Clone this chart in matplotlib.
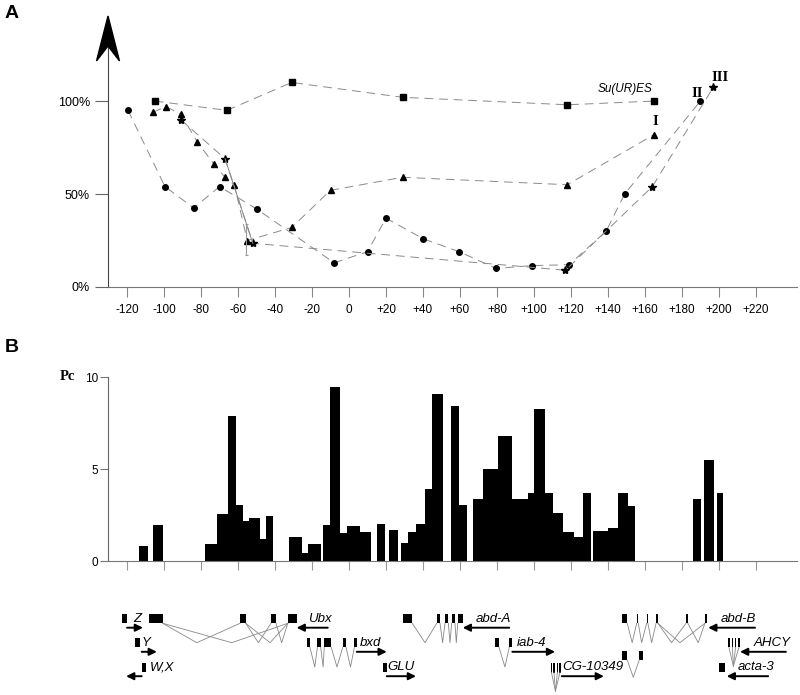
import matplotlib
matplotlib.use('Agg')
import matplotlib.pyplot as plt
from matplotlib.patches import Polygon, Rectangle

plt.rcParams['font.family'] = ['Liberation Sans', 'DejaVu Sans']

# ---- panel A : relative expression (%) vs position (kb) ----
sq_x = [-105, -66, -31, 29, 118, 165]
sq_y = [100, 95, 110, 102, 98, 100]

tri_x = [-106, -99, -91, -82, -73, -67, -62, -55, -31, -10, 29, 118, 165]
tri_y = [94, 97, 93, 78, 66, 59, 55, 25, 32, 52, 59, 55, 82]

star_x = [-91, -67, -52, 117, 164, 197]
star_y = [90, 69, 23.5, 9, 54, 107.5]

circ_x = [-119.5, -99.5, -84, -70, -50, -8, 10, 20, 40, 59.5, 79.5, 99, 119, 139, 149, 190]
circ_y = [95, 54, 42.5, 54, 42, 13, 19, 37, 26, 19, 10, 11.5, 12, 30, 50, 100]

err_x, err_lo, err_hi = -55.5, 17, 34

x_ticks = list(range(-120, 240, 20))
x_labels = [str(t) if t <= 0 else '+' + str(t) for t in x_ticks]

# ---- panel B : Pc binding ----
bar_left = [-113.5, -105.9, -77.8, -71.5, -65.6, -61.1, -57.1, -54.1, -48.1, -44.9,
            -32.4, -25.2, -22.0, -14.2, -10.3, -4.9, -1.2, 5.9, 15.0, 21.8,
            27.9, 31.7, 36.2, 40.9, 45.0, 55.0, 59.3, 67.2, 72.3, 80.7,
            88.3, 96.6, 100.0, 105.9, 110.4, 115.8, 121.6, 126.6, 132.1, 139.8,
            145.6, 151.0, 185.8, 191.9, 199.1]
bar_w = [4.9, 5.4, 6.3, 5.9, 4.5, 3.9, 3.1, 5.9, 3.2, 4.0,
         7.2, 3.2, 6.7, 3.9, 5.4, 3.6, 7.2, 5.9, 4.5, 4.9,
         3.8, 4.5, 4.7, 4.1, 5.9, 4.3, 4.7, 5.1, 8.4, 7.6,
         8.3, 3.4, 5.9, 4.5, 5.4, 5.8, 5.0, 4.2, 7.8, 5.7,
         5.4, 3.6, 4.3, 5.6, 3.2]
bar_h = [0.82, 1.95, 0.9, 2.56, 7.9, 3.05, 2.2, 2.35, 1.2, 2.45,
         1.3, 0.45, 0.9, 1.95, 9.45, 1.5, 1.9, 1.55, 2.0, 1.7,
         1.0, 1.55, 2.0, 3.9, 9.1, 8.45, 3.05, 3.35, 5.0, 6.8,
         3.35, 3.68, 8.25, 3.68, 2.6, 1.6, 1.33, 3.68, 1.65, 1.78,
         3.68, 3.0, 3.35, 5.5, 3.68]

# ---- gene map ----
exon_start = [-122.8, -107.9, -58.9, -42.2, -33.1, 29.4, 47.4, 51.9, 55.5, 58.8,
              147.4, 155.5, 160.9, 166.0, 182.2, 192.4,
              -115.7, -22.9, -17.1, -13.4, -11.4, -3.4, 2.9, 78.9, 86.6,
              -112.1, 18.2, 200.2,
              147.4, 156.9]
exon_end = [-120.1, -100.7, -55.8, -39.5, -28.3, 34.2, 49.2, 53.7, 57.3, 61.5,
            150.4, 156.4, 161.6, 167.0, 183.2, 193.7,
            -113.0, -21.1, -15.3, -11.6, -9.6, -1.6, 4.4, 81.1, 88.1,
            -109.7, 20.4, 203.2,
            150.4, 158.8]
exon_row = [1] * 16 + [2] * 9 + [3] * 3 + [4] * 2

splices = [(-100.7, -82.3, -58.9, 1), (-100.7, -63.4, -33.1, 1), (-55.8, -49.0, -42.2, 1),
           (-55.8, -42.7, -33.1, 1), (-39.5, -36.4, -33.1, 1),
           (34.2, 41.1, 47.4, 1), (49.2, 50.6, 51.9, 1), (53.7, 54.6, 55.5, 1), (57.3, 58.0, 58.8, 1),
           (150.4, 153.1, 155.5, 1), (156.4, 158.2, 160.9, 1), (161.6, 163.6, 166.0, 1),
           (167.0, 174.4, 182.2, 1), (167.0, 178.9, 192.4, 1), (183.2, 188.8, 192.4, 1),
           (-21.1, -18.5, -17.1, 2), (-15.3, -14.0, -13.4, 2), (-9.6, -6.5, -3.4, 2), (-1.6, 0.8, 2.9, 2),
           (81.1, 84.3, 86.6, 2),
           (150.4, 153.7, 156.9, 4)]

cg_exons = [109.0, 110.4, 112.3, 113.7]
ahcy_exons = [205.0, 206.9, 208.6, 210.4]

gene_names = ['Z', 'Ubx', 'abd-A', 'abd-B', 'Y', 'bxd', 'iab-4', 'AHCY', 'W,X', 'GLU', 'CG-10349', 'acta-3']
gene_label_x = [-116.8, -22.2, 68.5, 200.9, -112.3, 5.6, 90.6, 218.5, -107.6, 20.7, 115.5, 210.4]
gene_row = [1, 1, 1, 1, 2, 2, 2, 2, 3, 3, 3, 3]
arrow_tail = [-120.0, -11.5, 86.6, 219.5, -112.1, 4.2, 88.3, 236.2, -112.1, 20.4, 115.0, 226.6]
arrow_head = [-111.4, -28.3, 61.5, 194.2, -103.9, 20.4, 111.4, 211.4, -120.5, 36.2, 137.8, 204.2]

row_y = {1: 618.7, 2: 642.8, 3: 667.2, 4: 655.3}
apex_y = {1: 642.7, 2: 667.0, 4: 677.3}

W, H = 800, 695
XMIN, XMAX = -130.3, 242.2


def rect(left, top, right, bottom):
    return [left / W, 1 - bottom / H, (right - left) / W, (bottom - top) / H]


fig = plt.figure(figsize=(8, 6.95), dpi=100)

# ---------------- A ----------------
axA = fig.add_axes(rect(108, 17, 797, 287))
axA.set_xlim(XMIN, XMAX)
axA.set_ylim(0, 145.2)
for s in ['top', 'right']:
    axA.spines[s].set_visible(False)
axA.spines['left'].set_color('#444')
axA.spines['bottom'].set_color('#777')
axA.set_xticks(x_ticks)
axA.set_xticklabels(x_labels)
axA.set_yticks([0, 50, 100])
axA.set_yticklabels(['0%', '50%', '100%'])
axA.tick_params(axis='x', direction='out', length=7, width=0.8, color='#888', labelsize=8.5, pad=5)
axA.tick_params(axis='y', direction='out', length=9.4, width=0.8, color='#666', labelsize=9, pad=3.5)

kw = dict(color='#8a8a8a', lw=0.7, ls=(0, (9, 6)), markerfacecolor='black', markeredgecolor='black')
axA.plot(sq_x, sq_y, marker='s', ms=4, **kw)
axA.plot(tri_x, tri_y, marker='^', ms=4.5, **kw)
axA.plot(circ_x, circ_y, marker='o', ms=4, **kw)
axA.plot(star_x, star_y, marker='*', ms=6, **kw)
axA.plot(star_x[1:3], star_y[1:3], color='#8a8a8a', lw=0.7)
axA.vlines(err_x, err_lo, err_hi, color='#999', lw=0.8)
axA.hlines([err_lo, err_hi], err_x - 1, err_x + 1, color='#999', lw=0.8)

axA.text(164, 103.5, 'Su(UR)ES', style='italic', fontsize=8.5, ha='right', va='bottom')
serif = ['Liberation Serif', 'DejaVu Serif']
axA.text(165.4, 88.9, 'I', family=serif, fontsize=10.5, fontweight='bold', ha='center', va='center')
axA.text(188, 104, 'II', family=serif, fontsize=10.5, fontweight='bold', ha='center', va='center')
axA.text(200.5, 112.7, 'III', family=serif, fontsize=10.5, fontweight='bold', ha='center', va='center')

# big arrow head on the y axis
pts = [(108, 16), (96.5, 61), (108, 46), (119.5, 61)]
fig.add_artist(Polygon([(x / W, 1 - y / H) for x, y in pts], closed=True,
                       transform=fig.transFigure, facecolor='black', edgecolor='black'))

# ---------------- B ----------------
axB = fig.add_axes(rect(108, 377, 797, 561))
axB.set_xlim(XMIN, XMAX)
axB.set_ylim(0, 10)
axB.bar(bar_left, bar_h, width=bar_w, align='edge', color='black', lw=0)
for s in ['top', 'right']:
    axB.spines[s].set_visible(False)
axB.spines['left'].set_color('#666')
axB.spines['bottom'].set_color('#777')
axB.set_xticks(x_ticks)
axB.set_xticklabels([])
axB.set_yticks([0, 5, 10])
axB.tick_params(axis='x', direction='out', length=6.5, width=0.8, color='#999')
axB.tick_params(axis='y', direction='out', length=5.8, width=0.8, color='#777', labelsize=8.5, pad=1.5)
fig.text(60 / W, 1 - 377 / H, 'Pc', family=serif, fontweight='bold', fontsize=10.5, va='center')

# ---------------- gene map ----------------
axG = fig.add_axes(rect(108, 590, 797, 695))
axG.set_xlim(XMIN, XMAX)
axG.set_ylim(695, 590)
axG.axis('off')

for a, b, r in zip(exon_start, exon_end, exon_row):
    axG.add_patch(Rectangle((a, row_y[r] - 4.6), b - a, 9.2, color='black', lw=0))
for a, m, b, r in splices:
    axG.plot([a, m, b], [row_y[r] + 4.6, apex_y[r], row_y[r] + 4.6], color='#888', lw=0.6)

for x in cg_exons:
    axG.add_patch(Rectangle((x, row_y[3] - 4.6), 0.8, 10, color='black', lw=0))
    axG.plot([x + 0.4, 111.6], [row_y[3] + 5, 691], color='#888', lw=0.6)
for x in ahcy_exons:
    axG.add_patch(Rectangle((x, row_y[2] - 4.6), 0.8, 9.2, color='black', lw=0))
    axG.plot([x + 0.4, 207.8], [row_y[2] + 4.6, 666], color='#888', lw=0.6)

for name, lx, r, t, h in zip(gene_names, gene_label_x, gene_row, arrow_tail, arrow_head):
    axG.text(lx, row_y[r], name, style='italic', fontsize=9.5, ha='left', va='center')
    axG.annotate('', xy=(h, row_y[r] + 9), xytext=(t, row_y[r] + 9),
                 arrowprops=dict(arrowstyle='-|>', color='black', lw=1.4,
                                 mutation_scale=11, shrinkA=0, shrinkB=0))

fig.text(5 / W, 1 - 14 / H, 'A', fontsize=14, fontweight='bold', va='center')
fig.text(5 / W, 1 - 347 / H, 'B', fontsize=14, fontweight='bold', va='center')

fig.savefig('out.png', dpi=100)
